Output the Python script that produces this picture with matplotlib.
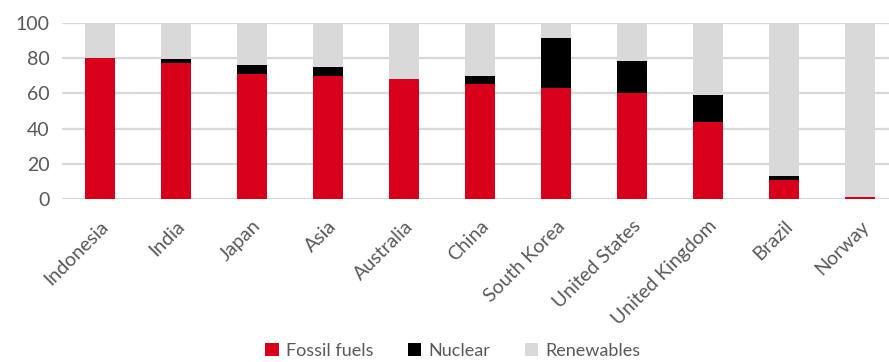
import numpy as np
import matplotlib.pyplot as plt

plt.rcParams['font.family'] = ['Lato', 'DejaVu Sans']

# Share of electricity generation by source (%)
countries = ["Indonesia", "India", "Japan", "Asia", "Australia", "China",
             "South Korea", "United States", "United Kingdom", "Brazil", "Norway"]
fossil = [80, 77, 71, 70, 68, 65, 63, 60, 44, 11, 1.2]
nuclear = [0, 2.5, 5, 5, 0, 5, 28, 18, 15, 2, 0]
renewables = [100 - f - n for f, n in zip(fossil, nuclear)]

red = "#d9001b"
grey = "#d9d9d9"
text_col = "#595959"

fig = plt.figure(figsize=(8.89, 3.62), dpi=100)
# axes runs a little past the right edge, like the cropped original
ax = fig.add_axes([62 / 889, 1 - 199.3 / 362, 836 / 889, 176.8 / 362])

x = np.arange(len(countries))
w = 0.395
fossil = np.array(fossil)
nuclear = np.array(nuclear)
ax.bar(x, fossil, w, color=red, label="Fossil fuels", zorder=3)
ax.bar(x, nuclear, w, bottom=fossil, color="black", label="Nuclear", zorder=3)
ax.bar(x, renewables, w, bottom=fossil + nuclear, color=grey, label="Renewables", zorder=3)

ax.set_xlim(-0.5, len(countries) - 0.5)
ax.set_ylim(0, 100)
ax.set_yticks(range(0, 101, 20))
ax.yaxis.grid(True, color=grey, lw=1.6, zorder=0)
ax.set_axisbelow(True)
for s in ax.spines.values():
    s.set_visible(False)
ax.tick_params(length=0, labelsize=14, colors=text_col)
ax.tick_params(axis="y", pad=9)
ax.set_xticks(x)
ax.set_xticklabels(countries, rotation=45, ha="right", rotation_mode="anchor")
ax.tick_params(axis="x", pad=13)

fig.legend(loc="center", bbox_to_anchor=(453 / 889, 1 - 351 / 362), ncol=3, frameon=False,
           fontsize=13, handlelength=0.75, handleheight=0.75, columnspacing=1.9,
           handletextpad=0.4, labelcolor=text_col, borderpad=0.1)

fig.savefig("out.png", dpi=100)
